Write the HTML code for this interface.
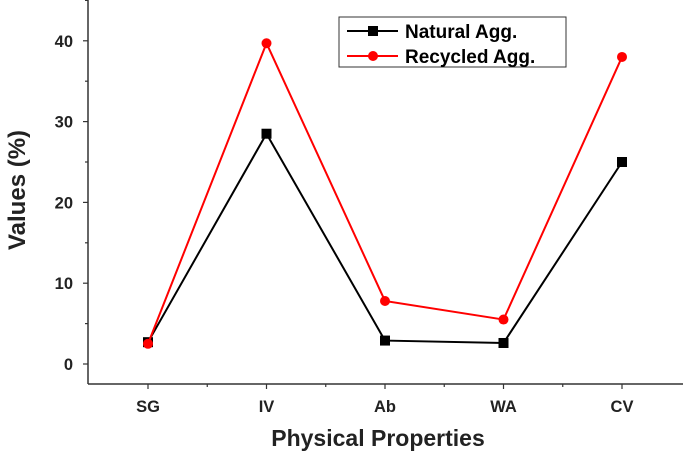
<!DOCTYPE html>
<html><head><meta charset="utf-8"><style>
html,body{margin:0;padding:0;background:#fff;}
svg{display:block;font-family:"Liberation Sans",Arial,sans-serif;font-weight:bold;}
</style></head><body>
<svg id="chart" width="685" height="452" viewBox="0 0 685 452" xmlns="http://www.w3.org/2000/svg">
<g id="axes"></g>
<g id="series"></g>
<g>
<rect x="339" y="17" width="227" height="50" fill="#fff" stroke="#333" stroke-width="1"/>
<g>
<line x1="347" y1="31" x2="398" y2="31" stroke="#000" stroke-width="2"/>
<rect x="368" y="26" width="10" height="10" fill="#000"/>
<text x="405" y="38" font-size="19" fill="#000">Natural Agg.</text></g>
<g>
<line x1="347" y1="56" x2="398" y2="56" stroke="#f00" stroke-width="2"/>
<circle cx="373" cy="56" r="5" fill="#f00"/>
<text x="405" y="63" font-size="19" fill="#000">Recycled Agg.</text></g>
</g>
<text x="378" y="446" font-size="23" text-anchor="middle" fill="#222">Physical Properties</text>
<text transform="translate(25,190) rotate(-90)" font-size="24" text-anchor="middle" fill="#222">Values (%)</text>
</svg>
<script>
const categories = ["SG","IV","Ab","WA","CV"];
const naturalValues = [2.7, 28.5, 2.9, 2.6, 25.0];
const recycledValues = [2.5, 39.7, 7.8, 5.5, 38.0];
const yTicks = [0,10,20,30,40];
const NS="http://www.w3.org/2000/svg";
function xScale(i){return 148 + i*118.5;}
function yScale(v){return 364 - v*8.08;}
function mk(tag,attrs,parent){const e=document.createElementNS(NS,tag);for(const k in attrs)e.setAttribute(k,attrs[k]);parent.appendChild(e);return e;}
const axes=document.getElementById('axes');
const yAxis=mk('line',{x1:88,y1:0,x2:88,y2:384,stroke:'#333','stroke-width':1.5},axes);


const xAxis=mk('line',{x1:88,y1:384,x2:683,y2:384,stroke:'#333','stroke-width':1.5},axes);


for(let v=0;v<=45;v+=5){mk('line',{x1:v%10===0?83:85,y1:yScale(v),x2:88,y2:yScale(v),stroke:'#333','stroke-width':1.2},axes);}
yTicks.forEach(v=>{const t=mk('text',{x:73,y:yScale(v)+6,'font-size':16.5,'text-anchor':'end',fill:'#222'},axes);t.textContent=v;

});
categories.forEach((c,i)=>{mk('line',{x1:xScale(i),y1:384,x2:xScale(i),y2:389,stroke:'#333','stroke-width':1.2},axes);
if(i<categories.length-1)mk('line',{x1:xScale(i+0.5),y1:384,x2:xScale(i+0.5),y2:387,stroke:'#333','stroke-width':1.2},axes);
const t=mk('text',{x:xScale(i),y:412,'font-size':16.5,'text-anchor':'middle',fill:'#222'},axes);t.textContent=c;

});
const ser=document.getElementById('series');
function drawSeries(vals,color,shape,name){
const pts=vals.map((v,i)=>xScale(i)+','+yScale(v)).join(' ');
const pl=mk('polyline',{points:pts,fill:'none',stroke:color,'stroke-width':2},ser);


vals.forEach((v,i)=>{let m;
if(shape==='sq')m=mk('rect',{x:xScale(i)-5,y:yScale(v)-5,width:10,height:10,fill:color},ser);
else m=mk('circle',{cx:xScale(i),cy:yScale(v),r:5,fill:color},ser);

});}
drawSeries(naturalValues,'#000','sq','natural');
drawSeries(recycledValues,'#f00','ci','recycled');
</script>
</body></html>
